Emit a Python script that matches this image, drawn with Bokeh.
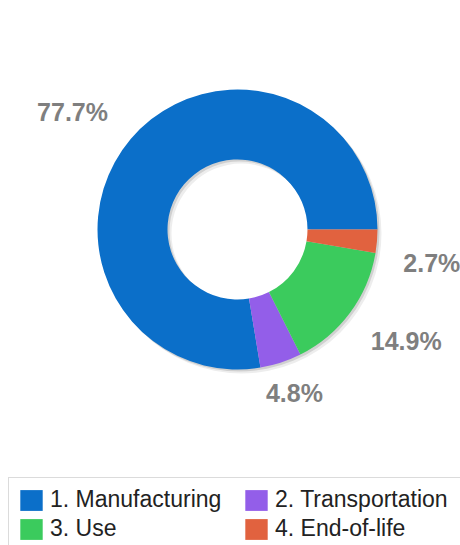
import math
from bokeh.plotting import figure
from bokeh.models import Range1d, Legend, LegendItem, ColumnDataSource
from bokeh.core.properties import value
from bokeh.embed import file_html
from bokeh.resources import INLINE

# ---- data ----
categories = ["1. Manufacturing", "2. Transportation", "3. Use", "4. End-of-life"]
shares = [77.7, 4.8, 14.9, 2.7]
colors = ["#0b6fc9", "#935ee9", "#3bcb5d", "#e1623f"]
pct_labels = ["77.7%", "4.8%", "14.9%", "2.7%"]
# label nudges in screen pixels (layout only)
label_dx = [-20, -2, 16, 5]
label_dy = [5, -17, -2, 17]

W, H = 460, 545
CX, CY = 237, H - 229
R_IN, R_OUT, R_LBL = 70, 140, 190

total = sum(shares)
starts, ends, mids = [], [], []
acc = 0.0
for s in shares:
    a0 = 2 * math.pi * acc / total
    acc += s
    a1 = 2 * math.pi * acc / total
    starts.append(a0)
    ends.append(a1)
    mids.append((a0 + a1) / 2)

src = ColumnDataSource(dict(
    cat=categories, start=starts, end=ends, color=colors,
    x=[CX] * len(shares), y=[CY] * len(shares),
))

lbl = ColumnDataSource(dict(
    x=[CX + R_LBL * math.cos(m) for m in mids],
    y=[CY + R_LBL * math.sin(m) for m in mids],
    text=pct_labels,
    dx=label_dx,
    dy=label_dy,
))

p = figure(width=W, height=H, x_range=Range1d(0, W), y_range=Range1d(0, H),
           output_backend="svg", toolbar_location=None, min_border=0,
           x_axis_location=None, y_axis_location=None)
p.grid.visible = False
p.outline_line_color = None
p.background_fill_color = "white"

# soft shadow
p.annulus(x=CX + 2, y=CY - 2, inner_radius=R_IN, outer_radius=R_OUT,
          inner_radius_units="screen", outer_radius_units="screen",
          fill_color="#000000", fill_alpha=0.12, line_color=None)
p.annulus(x=CX + 4, y=CY - 4, inner_radius=R_IN, outer_radius=R_OUT,
          inner_radius_units="screen", outer_radius_units="screen",
          fill_color="#000000", fill_alpha=0.07, line_color=None)

r = p.annular_wedge(x="x", y="y", inner_radius=R_IN, outer_radius=R_OUT,
                    inner_radius_units="screen", outer_radius_units="screen",
                    start_angle="start", end_angle="end", fill_color="color",
                    line_color=None, source=src)

p.text(x="x", y="y", text="text", x_offset="dx", y_offset="dy", source=lbl,
       text_font=value("Liberation Sans"), text_font_size="25px",
       text_font_style="bold", text_color="#7f7f7f",
       text_align="center", text_baseline="middle")

# legend fills column-major: column 1 = items 0, 2 ; column 2 = items 1, 3
order = [0, 2, 1, 3]
items = [LegendItem(label=categories[i], renderers=[r], index=i) for i in order]
legend = Legend(items=items, ncols=2, location=(8, -6),
                label_text_font="Liberation Sans", label_text_font_size="23px",
                label_text_color="#222222",
                glyph_width=28, glyph_height=26, label_height=26, label_width=190,
                label_standoff=5, spacing=2, padding=8, margin=0,
                border_line_color="#b8b8b8", border_line_width=1.5,
                background_fill_color="white", background_fill_alpha=1.0)
p.add_layout(legend, "center")

open("out.html", "w").write(file_html(p, INLINE))
